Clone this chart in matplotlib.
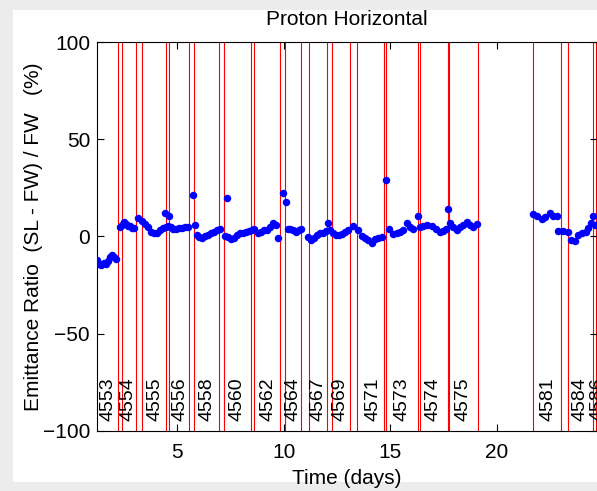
import matplotlib
matplotlib.use('Agg')
import matplotlib.pyplot as plt
from matplotlib.patches import Rectangle

plt.rcParams['font.family'] = ['Liberation Sans', 'DejaVu Sans']

# measured emittance ratio vs time
days = [1.22, 1.33, 1.42, 1.56, 1.65, 1.75, 1.84, 1.94, 2.03, 2.12,
        2.31, 2.40, 2.51, 2.59, 2.68, 2.78, 2.87, 2.96,
        3.17, 3.33, 3.48, 3.63, 3.77, 3.91, 4.05, 4.19, 4.33, 4.43, 4.47, 4.56, 4.61,
        4.69, 4.80, 4.94, 5.08, 5.22, 5.36, 5.50, 5.75,
        5.83, 5.92, 6.02, 6.16, 6.30, 6.44, 6.58, 6.72, 6.86, 7.00,
        7.24, 7.33, 7.38, 7.52, 7.66, 7.80, 7.94, 8.08, 8.22, 8.36, 8.51, 8.60,
        8.79, 8.93, 9.07, 9.21, 9.35, 9.49, 9.63, 9.73, 9.96, 10.10,
        10.20, 10.29, 10.43, 10.57, 10.70, 10.80,
        11.15, 11.27, 11.41, 11.55, 11.69, 11.83, 11.98, 12.08, 12.17, 12.31,
        12.45, 12.59, 12.73, 12.87, 13.01, 13.23,
        13.49, 13.65, 13.81, 13.96, 14.12, 14.28, 14.43, 14.59, 14.79,
        14.95, 15.11, 15.30, 15.45, 15.61, 15.79, 15.92, 16.07, 16.28,
        16.39, 16.54, 16.73, 16.94, 17.14, 17.33, 17.48, 17.61, 17.69,
        17.80, 17.95, 18.11, 18.27, 18.42, 18.58, 18.73, 18.89, 19.05,
        21.68, 21.87, 22.10, 22.26, 22.49, 22.64, 22.83,
        22.88, 23.11, 23.35, 23.46, 23.66, 23.82, 23.98, 24.18, 24.29,
        24.40, 24.50, 24.61]
ratio = [-12, -14, -14.5, -13.5, -14, -12.5, -10.5, -9.5, -10.5, -11.5,
         4.7, 6, 7.6, 6.5, 5.5, 5.2, 4.5, 4.3,
         9.4, 8.1, 6.4, 4.7, 2.5, 1.6, 2.0, 3.3, 4.2, 11.9, 5.0, 5.4, 10.5,
         4.7, 3.7, 4.0, 4.2, 4.4, 4.7, 5.0, 21.2,
         5.9, 0.8, -0.4, -0.9, 0.3, 0.8, 1.6, 2.5, 3.3, 3.7,
         0.2, 19.6, -0.4, -1.4, -0.9, 0.8, 1.6, 2.0, 2.5, 2.8, 3.3, 3.7,
         1.6, 2.5, 3.3, 3.3, 4.7, 6.8, 5.9, -0.9, 22.5, 17.9,
         4.0, 3.9, 3.3, 2.5, 3.5, 3.8,
         -0.1, -1.8, -0.9, 0.8, 1.6, 1.8, 2.8, 6.8, 3.3, 1.8,
         0.8, 0.8, 1.3, 2.3, 3.3, 5.6,
         3.3, 0.3, -0.9, -1.8, -3.2, -1.4, -0.9, -0.1, 29.0,
         3.7, 1.3, 2.0, 2.5, 3.3, 7.1, 5.0, 3.7, 10.5,
         5.0, 5.6, 5.9, 5.4, 3.7, 2.5, 3.0, 3.7, 14.3,
         6.8, 4.7, 3.3, 5.0, 5.9, 7.6, 5.9, 4.7, 6.4,
         11.6, 10.5, 8.8, 10.2, 11.9, 10.5, 10.5,
         2.8, 3.0, 2.5, -1.8, -2.2, 0.8, 1.6, 2.5, 4.2,
         6.8, 10.5, 5.9]

# fill boundaries
fill_lines = [2.20, 2.39, 3.06, 3.36, 4.48, 4.62, 5.53, 5.80, 6.94, 7.19,
              8.45, 8.61, 9.84, 10.07, 10.81, 11.18, 12.04, 12.25, 13.11, 13.44,
              14.69, 14.80, 16.29, 16.39, 17.70, 17.76, 19.12, 21.71, 22.98, 23.33,
              24.48, 24.66]

# fill numbers and where they are written
fill_names = ['4553', '4554', '4555', '4556', '4558', '4560', '4562', '4564', '4567',
              '4569', '4571', '4573', '4574', '4575', '4581', '4584', '4586']
fill_pos = [1.75, 2.69, 3.95, 5.13, 6.38, 7.79, 9.26, 10.43, 11.61,
            12.64, 14.19, 15.53, 16.99, 18.41, 22.40, 23.90, 24.73]

fig = plt.figure(figsize=(5.97, 4.91), dpi=100)
fig.patch.set_facecolor('#ececec')
# white figure area inside a light grey border
bg = Rectangle((13 / 597, 1 - 482 / 491), 1, (482 - 10) / 491,
               transform=fig.transFigure, facecolor='white', edgecolor='none')
bg.set_zorder(-10)
fig.add_artist(bg)

ax = fig.add_axes([97 / 597, 1 - 431 / 491, 500 / 597, 389 / 491])

for d in fill_lines:
    ax.axvline(d, color='red', linewidth=0.8, zorder=1)

ax.plot(days, ratio, 'o', color='blue', markersize=5.4, markeredgewidth=0, zorder=3)

for name, x in zip(fill_names, fill_pos):
    ax.text(x, -95, name, rotation=90, ha='center', va='bottom', fontsize=14,
            clip_on=False, zorder=4)

ax.set_xlim(1.232, 24.69)
ax.set_ylim(-100, 100)
ax.set_xticks([5, 10, 15, 20])
ax.set_yticks([-100, -50, 0, 50, 100])
ax.tick_params(direction='in', length=5, width=0.8, labelsize=15, top=True, right=True)
ax.tick_params(axis='x', pad=9)
ax.tick_params(axis='y', pad=5)

ax.set_title('Proton Horizontal', fontsize=15, pad=12)
ax.set_xlabel('Time (days)', fontsize=15, labelpad=5)
ax.set_ylabel('Emittance Ratio  (SL - FW) / FW   (%)', fontsize=15, labelpad=0)

fig.savefig('out.png', dpi=100, facecolor=fig.get_facecolor())
